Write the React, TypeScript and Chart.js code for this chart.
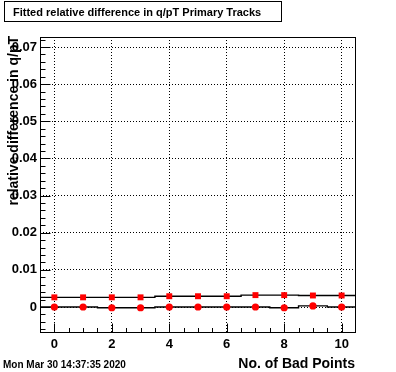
import { useEffect, useRef } from 'react';
import { Chart, registerables } from 'chart.js';

Chart.register(...registerables);

const badPoints = [0, 1, 2, 3, 4, 5, 6, 7, 8, 9, 10];
const squareValues = [0.0026, 0.0026, 0.0026, 0.0026, 0.0029, 0.0029, 0.0029, 0.0032, 0.0032, 0.0031, 0.0031];
const circleValues = [0, 0, -0.0002, -0.0002, 0, 0, 0, 0, -0.0002, 0.0003, 0];
const yTickValues = [0, 0.01, 0.02, 0.03, 0.04, 0.05, 0.06, 0.07];
const yTickLabels = ['0', '0.01', '0.02', '0.03', '0.04', '0.05', '0.06', '0.07'];
const xTickValues = [0, 2, 4, 6, 8, 10];
const xTickLabels = ['0', '2', '4', '6', '8', '10'];

const titleText = 'Fitted relative difference in q/pT Primary Tracks';
const xTitle = 'No. of Bad Points';
const yTitle = 'relative difference in q/pT';
const dateText = 'Mon Mar 30 14:37:35 2020';

const FONT = '"Liberation Sans", Arial, Helvetica, sans-serif';

const pts = (vals: number[]) => vals.map((v, i) => ({ x: badPoints[i], y: v }));
const steps = (vals: number[]) =>
  vals.flatMap((v, i) => [
    { x: badPoints[i] - 0.5, y: v },
    { x: badPoints[i] + 0.5, y: v },
  ]);

const rootPlugin = {
  id: 'rootDecor',
  afterDraw(chart: any) {
    const ctx = chart.ctx as CanvasRenderingContext2D;
    const { left, right, top, bottom } = chart.chartArea;
    const xs = chart.scales.x;
    const ys = chart.scales.y;
    ctx.save();
    ctx.strokeStyle = '#000';
    ctx.lineWidth = 1;
    ctx.setLineDash([]);
    const L = Math.round(left) + 0.5;
    const R = Math.round(right) - 0.5;
    const T = Math.round(top) + 0.5;
    const B = Math.round(bottom) - 0.5;
    ctx.strokeRect(L, T, R - L, B - T);
    // inner ticks
    ctx.beginPath();
    for (let v = -0.5; v <= 10.5001; v += 0.5) {
      const px = Math.round(xs.getPixelForValue(v)) + 0.5;
      if (px <= L || px >= R) continue;
      const major = Math.abs(v / 2 - Math.round(v / 2)) < 1e-6;
      const len = major ? 9 : 4.5;
      ctx.moveTo(px, B);
      ctx.lineTo(px, B - len);
    }
    for (let k = -4; k <= 37; k++) {
      const v = k * 0.002;
      const py = Math.round(ys.getPixelForValue(v)) + 0.5;
      if (py <= T || py >= B) continue;
      const major = k % 5 === 0;
      const len = major ? 10 : 5;
      ctx.moveTo(L, py);
      ctx.lineTo(L + len, py);
    }
    ctx.stroke();

    // title box
    ctx.fillStyle = '#fff';
    ctx.fillRect(4, 1, 278, 21);
    ctx.strokeRect(4.5, 1.5, 277, 20);
    ctx.fillStyle = '#000';
    ctx.font = `bold 11px ${FONT}`;
    ctx.textAlign = 'left';
    ctx.textBaseline = 'alphabetic';
    ctx.fillText(titleText, 13, 16);

    // x title
    ctx.font = `bold 14px ${FONT}`;
    ctx.textAlign = 'right';
    ctx.fillText(xTitle, 355, 368);

    // y title
    ctx.save();
    ctx.translate(18, 36);
    ctx.rotate(-Math.PI / 2);
    ctx.textAlign = 'right';
    ctx.fillText(yTitle, 0, 0);
    ctx.restore();

    // date
    ctx.font = `bold 10px ${FONT}`;
    ctx.textAlign = 'left';
    ctx.fillText(dateText, 3, 368);
    ctx.restore();
  },
};

export default function App() {
  const ref = useRef<HTMLCanvasElement>(null);
  useEffect(() => {
    document.body.style.margin = '0';
    const canvas = ref.current!;
    Chart.defaults.font.family = FONT;
    const chart = new Chart(canvas, {
      type: 'scatter',
      data: {
        datasets: [
          {
            label: 'squares',
            data: pts(squareValues),
            pointStyle: 'rect',
            pointRadius: 4.2,
            backgroundColor: '#ff0000',
            borderWidth: 0,
            showLine: false,
            order: 0,
          },
          {
            label: 'circles',
            data: pts(circleValues),
            pointStyle: 'circle',
            pointRadius: 3.6,
            backgroundColor: '#ff0000',
            borderWidth: 0,
            showLine: false,
            order: 0,
          },
          {
            label: 'squaresLine',
            data: steps(squareValues),
            showLine: true,
            borderColor: '#000',
            borderWidth: 1.4,
            pointRadius: 0,
            order: 1,
          },
          {
            label: 'circlesLine',
            data: steps(circleValues),
            showLine: true,
            borderColor: '#000',
            borderWidth: 1.4,
            pointRadius: 0,
            order: 1,
          },
        ],
      },
      options: {
        responsive: false,
        animation: false,
        layout: { padding: { left: 0, top: 37, right: 40, bottom: 0 } },
        plugins: { legend: { display: false }, tooltip: { enabled: false }, title: { display: false } },
        scales: {
          x: {
            type: 'linear',
            min: -0.5,
            max: 10.5,
            afterFit: (s: any) => {
              s.height = 39;
            },
            afterBuildTicks: (s: any) => {
              s.ticks = xTickValues.map((v) => ({ value: v }));
            },
            ticks: {
              color: '#000',
              font: { size: 13, weight: 'bold' },
              padding: 4,
              maxRotation: 0,
              callback: (v: any) => {
                const i = xTickValues.indexOf(Number(v));
                return i >= 0 ? xTickLabels[i] : '';
              },
            },
            grid: { color: '#000', lineWidth: 1, drawTicks: false },
            border: { display: false, dash: [1, 2] },
          },
          y: {
            type: 'linear',
            min: -0.007,
            max: 0.0727,
            afterFit: (s: any) => {
              s.width = 40;
            },
            afterBuildTicks: (s: any) => {
              s.ticks = yTickValues.map((v) => ({ value: v }));
            },
            ticks: {
              color: '#000',
              font: { size: 13, weight: 'bold' },
              padding: 3,
              callback: (v: any) => {
                const i = yTickValues.findIndex((t) => Math.abs(t - Number(v)) < 1e-9);
                return i >= 0 ? yTickLabels[i] : '';
              },
            },
            grid: { color: '#000', lineWidth: 1, drawTicks: false },
            border: { display: false, dash: [1, 2] },
          },
        },
      },
      plugins: [rootPlugin],
    });
    return () => chart.destroy();
  }, []);
  return (
    <div style={{ position: 'absolute', left: 0, top: 0, width: 396, height: 372 }}>
      <canvas ref={ref} width={396} height={372} style={{ display: 'block' }} />
    </div>
  );
}
